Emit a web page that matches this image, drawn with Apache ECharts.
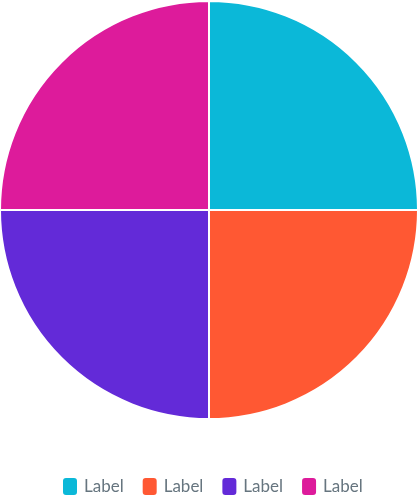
<!DOCTYPE html>
<html>
<head>
<meta charset="utf-8">
<script src="https://cdn.jsdelivr.net/npm/echarts@6/dist/echarts.min.js"></script>
<style>html,body{margin:0;padding:0;background:#fff}#c{width:420px;height:496px}</style>
</head>
<body>
<div id="c"></div>
<script>
const categories = ['Label', 'Label', 'Label', 'Label'];
const values = [25, 25, 25, 25];
const colors = ['#0BB8D8', '#FF5833', '#632AD8', '#DD1B9B'];

const chart = echarts.init(document.getElementById('c'), null, {renderer: 'canvas'});
chart.setOption({
  animation: false,
  legend: {
    top: 471,
    left: 61,
    icon: 'roundRect',
    itemWidth: 16,
    itemHeight: 19,
    itemGap: 17,
    padding: [5, 0, 5, 0],
    textStyle: {fontFamily: 'Lato', fontSize: 17, color: '#66757F', padding: [2, 0, 0, 1]},
    data: categories.map((c, i) => ({name: c + '\u200b'.repeat(i)}))
  },
  series: [{
    type: 'pie',
    center: [209, 210],
    radius: 209,
    startAngle: 90,
    label: {show: false},
    labelLine: {show: false},
    itemStyle: {borderColor: '#fff', borderWidth: 2},
    data: values.map((v, i) => ({name: categories[i] + '\u200b'.repeat(i), value: v, itemStyle: {color: colors[i]}}))
  }]
});
</script>
</body>
</html>
